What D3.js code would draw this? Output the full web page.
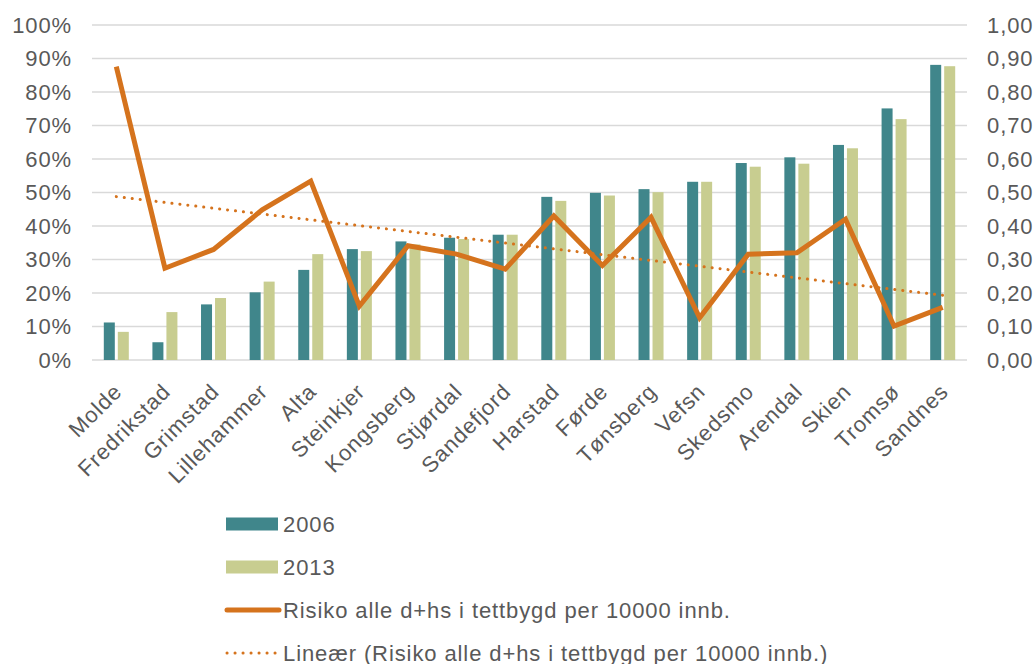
<!DOCTYPE html>
<html>
<head>
<meta charset="utf-8">
<script src="https://cdn.jsdelivr.net/npm/d3@7"></script>
<style>
  body { margin: 0; background: #fff; }
  text { font-family: "Liberation Sans", Arial, sans-serif; fill: #595959; letter-spacing: 0.9px; }
</style>
</head>
<body>
<div id="chart"></div>
<script>
// kategorier
const kommuner = ['Molde', 'Fredrikstad', 'Grimstad', 'Lillehammer', 'Alta', 'Steinkjer', 'Kongsberg',
  'Stjørdal', 'Sandefjord', 'Harstad', 'Førde', 'Tønsberg', 'Vefsn', 'Skedsmo', 'Arendal', 'Skien',
  'Tromsø', 'Sandnes'];

// andel (venstre akse)
const verdier2006 = [0.112, 0.053, 0.166, 0.202, 0.269, 0.331, 0.354, 0.365, 0.374, 0.487, 0.499,
  0.510, 0.532, 0.588, 0.605, 0.642, 0.751, 0.881];
const verdier2013 = [0.084, 0.143, 0.185, 0.234, 0.316, 0.325, 0.345, 0.361, 0.374, 0.475, 0.491,
  0.501, 0.532, 0.577, 0.586, 0.632, 0.719, 0.877];

// risiko (høyre akse)
const risiko = [0.876, 0.274, 0.330, 0.448, 0.534, 0.161, 0.341, 0.316, 0.271, 0.430, 0.282,
  0.426, 0.126, 0.316, 0.320, 0.420, 0.101, 0.157];

const venstreTicks = [0, 0.1, 0.2, 0.3, 0.4, 0.5, 0.6, 0.7, 0.8, 0.9, 1.0];
const hoyreTicks = [0, 0.1, 0.2, 0.3, 0.4, 0.5, 0.6, 0.7, 0.8, 0.9, 1.0];

const serieNavn = ['2006', '2013', 'Risiko alle d+hs i tettbygd per 10000 innb.',
  'Lineær (Risiko alle d+hs i tettbygd per 10000 innb.)'];

const farger = { teal: '#40868b', oliven: '#c8cd90', oransje: '#d5731d', grid: '#d9d9d9' };

const width = 1035, height = 664;
const margin = { top: 25, right: 68, bottom: 304, left: 92 };
const innerW = width - margin.left - margin.right;
const innerH = height - margin.top - margin.bottom;

const svg = d3.select('#chart').append('svg')
  .attr('width', width)
  .attr('height', height);

const g = svg.append('g')
  .attr('transform', `translate(${margin.left},${margin.top})`);

const x = d3.scaleBand().domain(kommuner).range([0, innerW]);
const yL = d3.scaleLinear().domain([0, 1]).range([innerH, 0]);
const yR = d3.scaleLinear().domain([0, 1]).range([innerH, 0]);

// rutenett
g.append('g')
  .selectAll('line')
  .data(venstreTicks)
  .join('line')
  .attr('x1', 0).attr('x2', innerW)
  .attr('y1', d => yL(d)).attr('y2', d => yL(d))
  .attr('stroke', farger.grid)
  .attr('stroke-width', 1.3);

// venstre akse
const aksV = g.append('g')
  .call(d3.axisLeft(yL).tickValues(venstreTicks).tickFormat(d3.format('.0%')).tickSize(0).tickPadding(20));
aksV.select('.domain').remove();
aksV.selectAll('text').style('font-size', '22px').attr('dy', '0.34em');

// høyre akse
const aksH = g.append('g')
  .attr('transform', `translate(${innerW},0)`)
  .call(d3.axisRight(yR).tickValues(hoyreTicks).tickFormat(d => d.toFixed(2).replace('.', ',')).tickSize(0).tickPadding(20));
aksH.select('.domain').remove();
aksH.selectAll('text').style('font-size', '22px').attr('dy', '0.34em');

// søyler
const barW = 11, gap = 3;
g.append('g').selectAll('rect')
  .data(verdier2006)
  .join('rect')
  .attr('x', (d, i) => x(kommuner[i]) + x.bandwidth() / 2 - gap / 2 - barW)
  .attr('y', d => yL(d))
  .attr('width', barW)
  .attr('height', d => innerH - yL(d))
  .attr('fill', farger.teal);

g.append('g').selectAll('rect')
  .data(verdier2013)
  .join('rect')
  .attr('x', (d, i) => x(kommuner[i]) + x.bandwidth() / 2 + gap / 2)
  .attr('y', d => yL(d))
  .attr('width', barW)
  .attr('height', d => innerH - yL(d))
  .attr('fill', farger.oliven);

// x-akse etiketter
g.append('g')
  .selectAll('text')
  .data(kommuner)
  .join('text')
  .attr('transform', d => `translate(${x(d) + x.bandwidth() / 2 + 7},${innerH + 33}) rotate(-45)`)
  .attr('text-anchor', 'end')
  .style('font-size', '22px')
  .text(d => d);

// lineær trend (minste kvadrat)
const idx = risiko.map((d, i) => i);
const mx = d3.mean(idx), my = d3.mean(risiko);
const stigning = d3.sum(idx, i => (i - mx) * (risiko[i] - my)) / d3.sum(idx, i => (i - mx) ** 2);
const trend = idx.map(i => my + stigning * (i - mx));

const linje = d3.line()
  .x((d, i) => x(kommuner[i]) + x.bandwidth() / 2)
  .y(d => yR(d));

g.append('path')
  .datum(trend)
  .attr('d', linje)
  .attr('fill', 'none')
  .attr('stroke', farger.oransje)
  .attr('stroke-width', 3)
  .attr('stroke-linecap', 'round')
  .attr('stroke-dasharray', '0.1 7.9');

g.append('path')
  .datum(risiko)
  .attr('d', linje)
  .attr('fill', 'none')
  .attr('stroke', farger.oransje)
  .attr('stroke-width', 5)
  .attr('stroke-linejoin', 'miter');

// legende
const legend = svg.append('g').attr('transform', 'translate(226,524)');
const radH = 43;
serieNavn.forEach((navn, i) => {
  const rad = legend.append('g').attr('transform', `translate(0,${i * radH})`);
  if (i < 2) {
    rad.append('rect')
      .attr('x', 0).attr('y', -6.5)
      .attr('width', 52).attr('height', 13)
      .attr('fill', i === 0 ? farger.teal : farger.oliven);
  } else {
    rad.append('line')
      .attr('x1', 1).attr('x2', 53).attr('y1', 0).attr('y2', 0)
      .attr('stroke', farger.oransje)
      .attr('stroke-width', i === 2 ? 5 : 3)
      .attr('stroke-linecap', 'round')
      .attr('stroke-dasharray', i === 2 ? null : '0.1 7.9');
  }
  rad.append('text')
    .attr('x', 57)
    .attr('y', 8)
    .style('font-size', '22px')
    .text(navn);
});
</script>
</body>
</html>
